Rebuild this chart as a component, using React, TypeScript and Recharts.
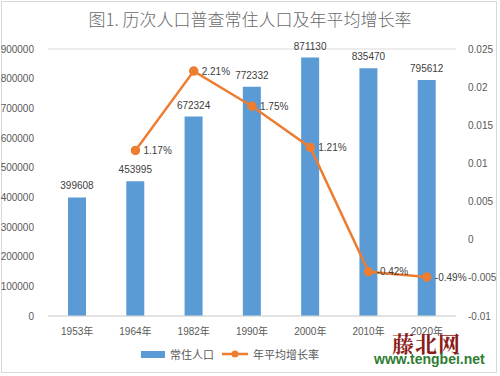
import { ComposedChart, Bar, Line, XAxis, YAxis, CartesianGrid, Legend, LabelList } from 'recharts';

const years = ['1953年', '1964年', '1982年', '1990年', '2000年', '2010年', '2020年'];
const population = [399608, 453995, 672324, 772332, 871130, 835470, 795612];
const growth = [null, 0.0117, 0.0221, 0.0175, 0.0121, -0.0042, -0.0049];
const leftTicks = [0, 100000, 200000, 300000, 400000, 500000, 600000, 700000, 800000, 900000];
const rightTicks = [-0.01, -0.005, 0, 0.005, 0.01, 0.015, 0.02, 0.025];

const FONT = '"Liberation Sans", "Noto Sans CJK SC", sans-serif';
const BLUE = '#5B9BD5';
const ORANGE = '#ED7D31';
const GREY = '#595959';

const data = years.map((y, i) => ({ year: y, pop: population[i], rate: growth[i] }));

function fmtPct(v: any) {
  if (v == null) return '';
  return (Math.round(v * 10000) / 100).toFixed(2) + '%';
}

function LegendBox() {
  return (
    <div style={{ display: 'flex', justifyContent: 'center', alignItems: 'center', gap: 8, fontSize: 11, color: GREY, fontFamily: FONT, paddingRight: 40 }}>
      <span style={{ display: 'flex', alignItems: 'center', gap: 5 }}>
        <span style={{ width: 24, height: 7, background: BLUE, display: 'inline-block' }} /> 常住人口
      </span>
      <span style={{ display: 'flex', alignItems: 'center', gap: 5 }}>
        <svg width={26} height={8}>
          <line x1={0} y1={4} x2={26} y2={4} stroke={ORANGE} strokeWidth={2.5} />
          <circle cx={13} cy={4} r={3.5} fill={ORANGE} />
        </svg>
        年平均增长率
      </span>
    </div>
  );
}

export default function App() {
  return (
    <div style={{ position: 'fixed', left: 0, top: 0, width: 500, height: 376, background: '#fff', fontFamily: FONT }}>
      <div style={{ position: 'absolute', left: 1, top: 1, width: 496, height: 372, border: '1px solid #d9d9d9', boxSizing: 'border-box' }} />
      <div style={{ position: 'absolute', top: 6, width: 500, textAlign: 'center', fontSize: 17, color: '#6a6a6a', fontFamily: '"Noto Sans CJK SC", sans-serif', fontWeight: 300 }}>
        图1. 历次人口普查常住人口及年平均增长率
      </div>
      <ComposedChart width={500} height={376} data={data} margin={{ top: 49, right: 0, left: 0, bottom: 10 }}>
        <CartesianGrid vertical={false} stroke="#d9d9d9" />
        <XAxis dataKey="year" height={30} tickLine={false} axisLine={{ stroke: '#d9d9d9' }} tick={{ fontSize: 10, fill: GREY, fontFamily: FONT }} tickMargin={6} interval={0} />
        <YAxis yAxisId="l" width={48} domain={[0, 900000]} ticks={leftTicks} tickLine={false} axisLine={false} tick={{ fontSize: 10, fill: GREY, fontFamily: FONT }} tickMargin={8} interval={0} />
        <YAxis yAxisId="r" orientation="right" width={44} domain={[-0.01, 0.025]} ticks={rightTicks} tickLine={false} axisLine={false} tick={{ fontSize: 10, fill: GREY, fontFamily: FONT, textAnchor: 'start' }} tickMargin={6} interval={0} tickFormatter={(v: number) => String(v)} />
        <Legend verticalAlign="bottom" height={20} content={() => <LegendBox />} />
        <Bar yAxisId="l" dataKey="pop" fill={BLUE} barSize={18} isAnimationActive={false}>
          <LabelList dataKey="pop" position="top" offset={8} style={{ fontSize: 10, fill: '#404040', fontFamily: FONT }} />
        </Bar>
        <Line yAxisId="r" dataKey="rate" stroke={ORANGE} strokeWidth={2.5} dot={{ r: 3.5, fill: ORANGE, stroke: ORANGE }} connectNulls={false} isAnimationActive={false}>
          <LabelList dataKey="rate" position="right" offset={8} formatter={fmtPct} style={{ fontSize: 10, fill: '#404040', fontFamily: FONT }} />
        </Line>
      </ComposedChart>
      <div style={{ position: 'absolute', left: 392, top: 327, fontSize: 22, fontWeight: 'bold', color: '#8B1A1A', fontFamily: '"Noto Serif CJK SC", "Noto Sans CJK SC", serif', letterSpacing: 1 }}>藤北网</div>
      <div style={{ position: 'absolute', left: 374, top: 351, fontSize: 14, fontWeight: 'bold', color: '#2E7D32', fontFamily: '"Liberation Sans", Arial, sans-serif' }}>www.tengbei.net</div>
    </div>
  );
}
